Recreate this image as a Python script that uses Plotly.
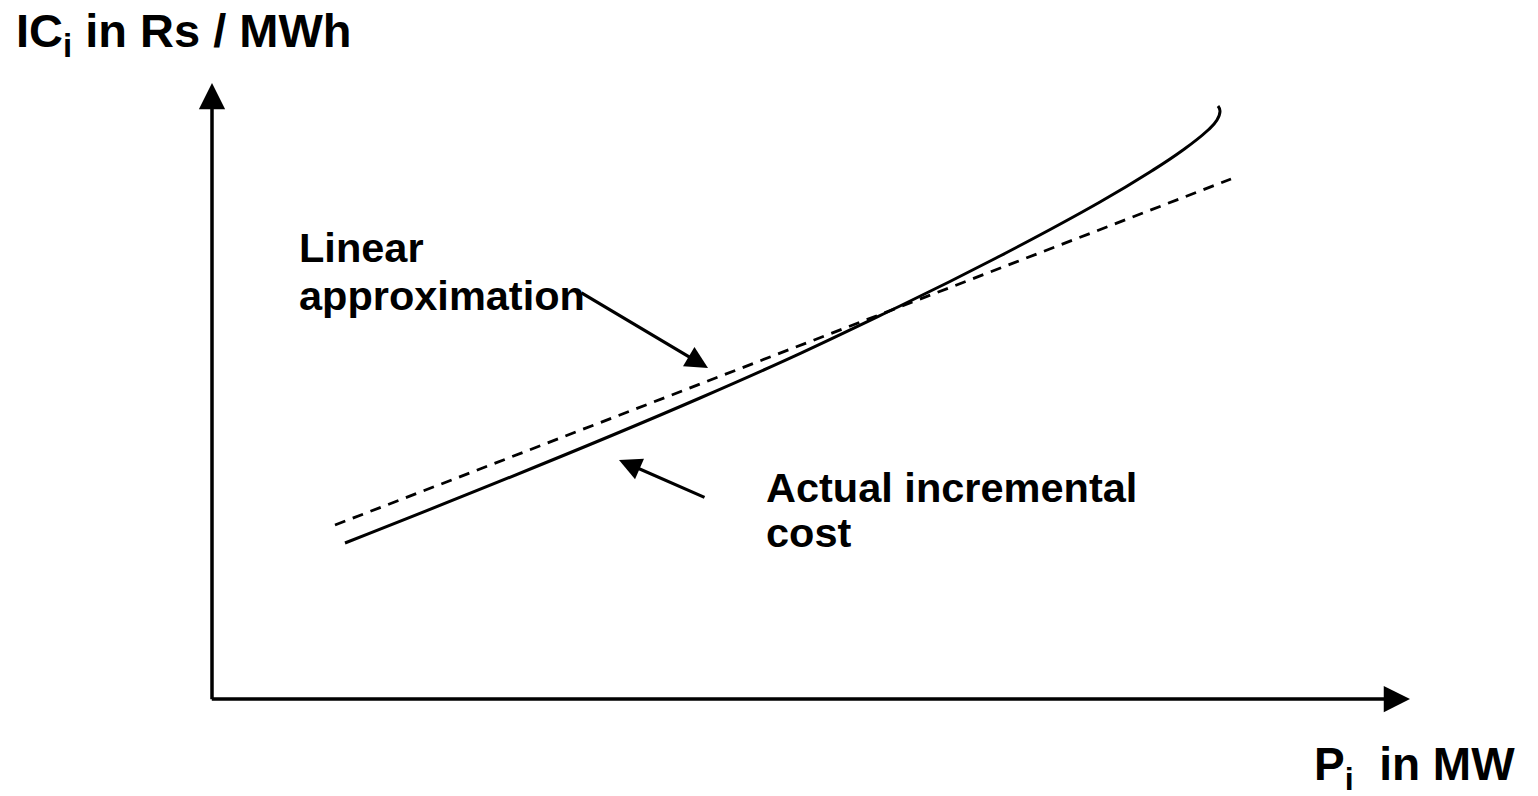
import plotly.graph_objects as go

# Actual incremental cost curve (P in MW vs IC in Rs/MWh, schematic units)
actual_p = [133, 488, 688, 788, 888, 938, 971, 995, 1005, 1008, 1006]
actual_ic = [156, 301, 393, 443, 497, 527, 549, 568, 579, 588, 593]

# Linear approximation (straight line end points)
linear_p = [123, 1019]
linear_ic = [174, 520]

# Axis extents (arrow tips)
x_axis_end = 1198
y_axis_end = 616

FONT = "Liberation Sans, Arial, Helvetica, sans-serif"

fig = go.Figure()

fig.add_trace(go.Scatter(
    x=linear_p, y=linear_ic, mode="lines",
    line=dict(color="black", width=2.8, dash="11px,8px"),
    hoverinfo="skip", showlegend=False))

fig.add_trace(go.Scatter(
    x=actual_p, y=actual_ic, mode="lines",
    line=dict(color="black", width=3, shape="spline", smoothing=1.3),
    hoverinfo="skip", showlegend=False))

annotations = []

def arrow(x, y, ax, ay, width, size):
    annotations.append(dict(
        x=x, y=y, ax=ax, ay=ay, xref="x", yref="y", axref="x", ayref="y",
        text="", showarrow=True, arrowhead=2, arrowwidth=width,
        arrowsize=size, arrowcolor="black", standoff=0, startstandoff=0))

# axes with arrow heads
arrow(0, y_axis_end, 0, -1.7, 3.5, 1.5)
arrow(x_axis_end, 0, -1.7, 0, 3.5, 1.5)

# pointer arrows
arrow(496, 331, 368, 407, 3.2, 1.4)
arrow(407, 239, 494, 201, 3.2, 1.4)

def label(text, x, y, size):
    annotations.append(dict(
        x=x, y=y, xref="x", yref="y", text=text, showarrow=False,
        xanchor="left", yanchor="top",
        font=dict(family=FONT, size=size, color="black", weight="bold")))

label("IC<sub>i</sub> in Rs / MWh", -198, 697, 47)
label("P<sub>i</sub>  in MW", 1100, -37, 46)
label("Linear", 85, 477, 41.5)
label("approximation", 85, 429, 41.5)
label("Actual incremental", 552, 237, 41.5)
label("cost", 552, 192, 41.5)

fig.update_layout(
    width=1538, height=796,
    margin=dict(l=0, r=0, t=0, b=0),
    paper_bgcolor="white", plot_bgcolor="white",
    xaxis=dict(range=[-212, 1326], visible=False, fixedrange=True),
    yaxis=dict(range=[-97, 699], visible=False, fixedrange=True),
    annotations=annotations,
    showlegend=False,
)

fig.write_html("out.html", config={"displayModeBar": False},
               post_script="document.body.style.margin='0';")
